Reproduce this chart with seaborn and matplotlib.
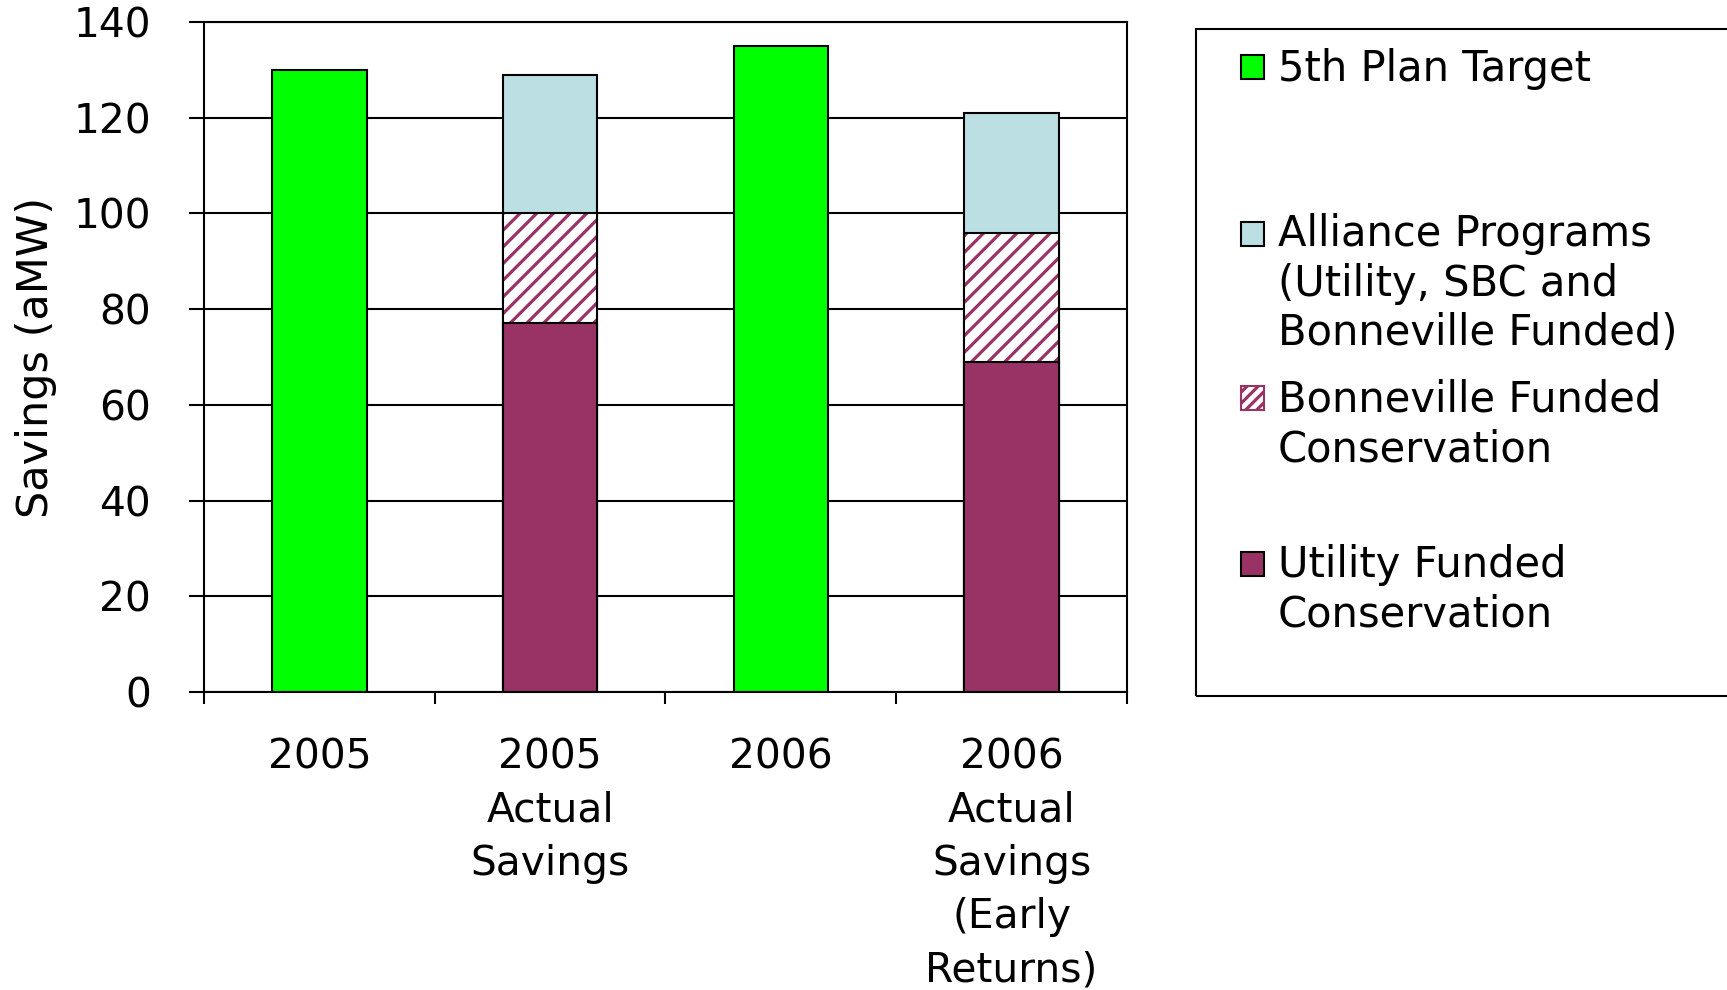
import numpy as np
import matplotlib
matplotlib.use("Agg")
import matplotlib.pyplot as plt
from matplotlib.patches import Patch, Rectangle
import seaborn as sns

# ---------------- data ----------------
categories = ["2005", "2005\nActual\nSavings", "2006",
              "2006\nActual\nSavings\n(Early\nReturns)"]
target_categories = [categories[0], categories[2]]
actual_categories = [categories[1], categories[3]]
plan_target = [130, 135]
utility_funded = [77, 69]
bonneville_funded = [23, 27]
alliance_programs = [29, 25]
yticks = [0, 20, 40, 60, 80, 100, 120, 140]
series_labels = ["5th Plan Target",
                 "Alliance Programs\n(Utility, SBC and\nBonneville Funded)",
                 "Bonneville Funded\nConservation",
                 "Utility Funded\nConservation"]
ylabel = "Savings (aMW)"

GREEN = "#00FF00"
LIGHTBLUE = "#BBDFE3"
MAROON = "#993366"

sns.set_style("ticks")
plt.rcParams["font.family"] = ["DejaVu Sans"]
plt.rcParams["hatch.linewidth"] = 2.3
for key in ["text.color", "axes.labelcolor", "xtick.color", "ytick.color",
            "axes.edgecolor"]:
    plt.rcParams[key] = "black"

fig = plt.figure(figsize=(17.27, 9.90), dpi=100)
ax = fig.add_axes([0.1181, 0.3010, 0.5345, 0.6768])

u = np.array(utility_funded)
b = np.array(bonneville_funded)
a = np.array(alliance_programs)
cum_ub = u + b
cum_uba = cum_ub + a

common = dict(order=categories, width=0.41, saturation=1, errorbar=None, ax=ax)
sns.barplot(x=actual_categories, y=cum_uba, color=LIGHTBLUE, edgecolor="black",
            linewidth=1.5, **common)
sns.barplot(x=actual_categories, y=cum_ub, color="white", edgecolor=MAROON,
            linewidth=0, hatch="//", **common)
sns.barplot(x=actual_categories, y=cum_ub, fill=False, color="black",
            edgecolor="black", linewidth=1.5, **common)
sns.barplot(x=actual_categories, y=u, color=MAROON, edgecolor="black",
            linewidth=1.5, **common)
sns.barplot(x=target_categories, y=plan_target, color=GREEN, edgecolor="black",
            linewidth=1.5, **common)

# ---------------- axes styling ----------------
ax.set_xlim(-0.5, 3.5)
ax.set_ylim(0, 140)
ax.set_yticks(yticks)
ax.set_xlabel("")
ax.set_ylabel(ylabel, fontsize=31, color="black")
ax.yaxis.set_label_coords(-0.1587, 0.5)

ax.set_xticks([-0.5, 0.5, 1.5, 2.5, 3.5], minor=True)
ax.tick_params(axis="x", which="major", length=0, pad=32.9, labelsize=29.3,
               colors="black")
ax.tick_params(axis="x", which="minor", length=8.6, width=1.5, direction="out",
               color="black")
ax.tick_params(axis="y", which="major", length=10.5, width=1.5, pad=27.7,
               labelsize=29.3, direction="out", colors="black")
ax.yaxis.grid(True, color="black", linewidth=1.5)
ax.xaxis.grid(False)
ax.set_axisbelow(True)
for s in ax.spines.values():
    s.set_visible(True)
    s.set_color("black")
    s.set_linewidth(1.5)
for t in ax.get_xticklabels():
    t.set_linespacing(1.423)

# ---------------- legend ----------------
fig.add_artist(Rectangle((0.6925, 0.297), 0.35, 0.674, transform=fig.transFigure,
                         fill=False, edgecolor="black", linewidth=1.5, clip_on=False))

handles = [
    Patch(facecolor=GREEN, edgecolor="black", linewidth=1.5),
    Patch(facecolor=LIGHTBLUE, edgecolor="black", linewidth=1.5),
    Patch(facecolor="white", edgecolor=MAROON, linewidth=1.5, hatch="///"),
    Patch(facecolor=MAROON, edgecolor="black", linewidth=1.5),
]
baselines_px = [80, 245, 410.5, 576]
leg_fs = 30.0
leg_ls = 1.22
step_pt = 0.208 * leg_fs + 0.76 * leg_fs * leg_ls
asc_px = 0.76 * leg_fs * 100 / 72
for handle, label, base in zip(handles, series_labels, baselines_px):
    top = 1 - (base - asc_px) / 990
    leg = fig.legend(handles=[handle], labels=[label], loc="upper left",
                     bbox_to_anchor=(0.7186, top), bbox_transform=fig.transFigure,
                     frameon=False, borderpad=0, borderaxespad=0,
                     handlelength=0.553, handleheight=0.51, handletextpad=0.33,
                     prop={"size": leg_fs}, labelcolor="black")
    for t in leg.get_texts():
        t.set_linespacing(leg_ls)
    n = label.count("\n") + 1
    if n > 1:
        rect = leg.legend_handles[0]
        rect.set_y(rect.get_y() + 0.5 * ((n - 1) * step_pt + 0.208 * leg_fs))

fig.savefig("out.png", dpi=100)
